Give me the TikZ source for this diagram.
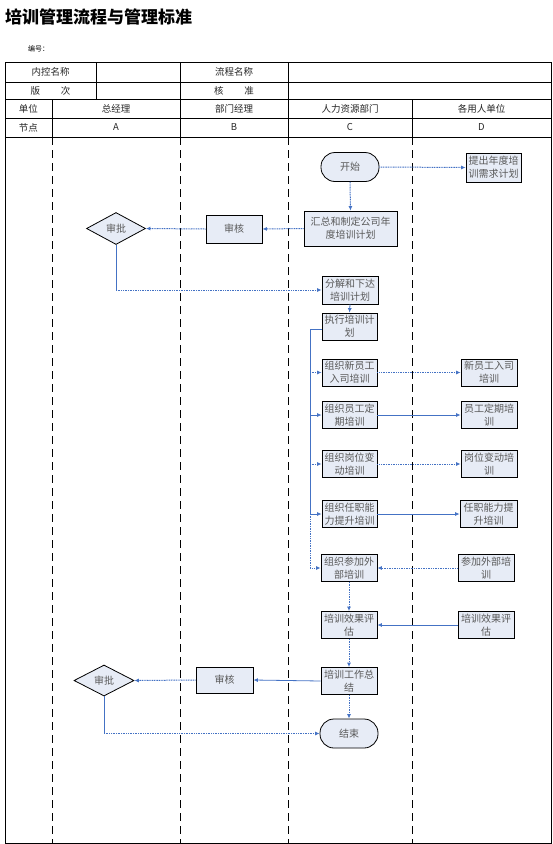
\documentclass[tikz,border=0pt]{standalone}
\usepackage{fontspec}
\setmainfont{Noto Sans CJK SC}
\usetikzlibrary{arrows.meta,shapes.geometric}
\definecolor{arrowblue}{RGB}{68,114,196}
\definecolor{boxfill}{RGB}{231,236,246}
\tikzset{
  lane/.style={draw=black, line width=0.8pt, dash pattern=on 8pt off 5pt},
  grid/.style={draw=black, line width=0.6pt},
  cell/.style={font=\fontsize{9.5}{11}\selectfont, text=black!85},
  box/.style={draw=black, line width=0.8pt, fill=boxfill, align=center, inner sep=0.5pt,
    font=\fontsize{10}{12.7}\selectfont, text=black!65},
  term/.style={box, rounded corners=14pt, minimum width=58pt, minimum height=29pt},
  dia/.style={box, diamond, inner sep=0pt, minimum width=59pt, minimum height=32pt},
  conn/.style={draw=arrowblue, line width=0.8pt, -{Latex[length=4.5pt,width=4pt]}},
  dconn/.style={conn, line width=1pt, dash pattern=on 1pt off 0.7pt},
  plain/.style={draw=arrowblue, line width=0.8pt},
  dplain/.style={plain, line width=1pt, dash pattern=on 1pt off 0.7pt}
}
\begin{document}
\begin{tikzpicture}[x=1pt,y=-1pt]
\useasboundingbox (0,0) rectangle (553,844);
% title
\node[anchor=west, font=\fontsize{17}{20}\selectfont\bfseries, inner sep=0pt] (title) at (5,17) {培训管理流程与管理标准};
\node[anchor=west, font=\fontsize{7}{8}\selectfont, inner sep=0pt] (num) at (28,49) {编号：};
% table frame
\draw[grid] (5,62) rectangle (551,843);
\draw[grid] (5,82) -- (551,82);
\draw[grid] (5,99) -- (551,99);
\draw[grid] (5,118) -- (551,118);
\draw[grid] (5,137) -- (551,137);
\foreach \x in {96,180,288} \draw[grid] (\x,62) -- (\x,99);
\foreach \x in {52,180,288,412} {
  \draw[grid] (\x,99) -- (\x,137);
  \draw[lane] (\x,137) -- (\x,843);
}
% table texts
\node[cell] (t1) at (50.5,72) {内控名称};
\node[cell] (t2) at (234,72) {流程名称};
\node[cell] (t3) at (50.5,90.5) {版\hspace{2.2em}次};
\node[cell] (t4) at (234,90.5) {核\hspace{2.2em}准};
\node[cell] (h0) at (28.5,108.5) {单位};
\node[cell] (h1) at (116,108.5) {总经理};
\node[cell] (h2) at (234,108.5) {部门经理};
\node[cell] (h3) at (350,108.5) {人力资源部门};
\node[cell] (h4) at (481.5,108.5) {各用人单位};
\node[cell] (n0) at (28.5,127.5) {节点};
\node[cell] (n1) at (116,127.5) {A};
\node[cell] (n2) at (234,127.5) {B};
\node[cell] (n3) at (350,127.5) {C};
\node[cell] (n4) at (481.5,127.5) {D};
% nodes
\node[term] (start) at (350,167) {开始};
\node[box, minimum width=55pt, minimum height=29pt] (req) at (493.5,167.5) {提出年度培\\训需求计划};
\node[box, minimum width=93pt, minimum height=35pt] (summ) at (350.5,228.5) {汇总和制定公司年\\度培训计划};
\node[box, minimum width=56pt, minimum height=28pt] (rev1) at (234,229) {审核};
\node[dia] (app1) at (116,228.5) {审批};
\node[box, minimum width=56pt, minimum height=28pt] (dec) at (350,290) {分解和下达\\培训计划};
\node[box, minimum width=55pt, minimum height=27pt] (exec) at (349.5,326.5) {执行培训计\\划};
\node[box, minimum width=55pt, minimum height=27pt] (new) at (349.5,372.5) {组织新员工\\入司培训};
\node[box, minimum width=55pt, minimum height=27pt] (reg) at (349.5,415) {组织员工定\\期培训};
\node[box, minimum width=55pt, minimum height=27pt] (pos) at (349.5,464) {组织岗位变\\动培训};
\node[box, minimum width=55pt, minimum height=27pt] (comp) at (349.5,514) {组织任职能\\力提升培训};
\node[box, minimum width=56pt, minimum height=27pt] (newd) at (489,372.5) {新员工入司\\培训};
\node[box, minimum width=56pt, minimum height=27pt] (regd) at (489,415) {员工定期培\\训};
\node[box, minimum width=56pt, minimum height=27pt] (posd) at (489,464) {岗位变动培\\训};
\node[box, minimum width=57pt, minimum height=27pt] (compd) at (488.5,514) {任职能力提\\升培训};
\node[box, minimum width=56pt, minimum height=27pt] (ext) at (349,568) {组织参加外\\部培训};
\node[box, minimum width=56pt, minimum height=27pt] (extd) at (486,568) {参加外部培\\训};
\node[box, minimum width=56pt, minimum height=27pt] (eval) at (349,625) {培训效果评\\估};
\node[box, minimum width=56pt, minimum height=27pt] (evald) at (486,625) {培训效果评\\估};
\node[box, minimum width=56pt, minimum height=27pt] (sum2) at (349,681) {培训工作总\\结};
\node[term] (end) at (349,733.5) {结束};
\node[box, minimum width=57pt, minimum height=26pt] (rev2) at (224.5,680) {审核};
\node[dia, minimum width=60pt, minimum height=31pt] (app2) at (104,680.5) {审批};
% connectors top
\draw[dconn] (start.east) -- (req.west);
\draw[dconn] (start.south) -- (summ.north);
\draw[dconn] (summ.west) -- (rev1.east);
\draw[dconn] (rev1.west) -- (app1.east);
\coordinate (c1) at (app1.south |- dec.west);
\draw[plain] (app1.south) -- (c1);
\draw[dconn] (c1) -- (dec.west);
\draw[conn] (dec.south) -- (exec.north);
% bus
\coordinate (bus) at (310,329);
\coordinate (busend) at (bus |- ext.west);
\draw[plain] (exec.west |- bus) -- (bus) -- (bus |- comp.west);
\draw[dconn] (bus |- comp.west) -- (busend) -- (ext.west);
\draw[dconn] (bus |- new.west) -- (new.west);
\draw[conn] (bus |- reg.west) -- (reg.west);
\draw[dconn] (bus |- pos.west) -- (pos.west);
\draw[conn] (bus |- comp.west) -- (comp.west);
% C to D
\draw[dconn] (new.east) -- (newd.west);
\draw[conn] (reg.east) -- (regd.west);
\draw[dconn] (pos.east) -- (posd.west);
\draw[conn] (comp.east) -- (compd.west);
\draw[dconn] (extd.west) -- (ext.east);
\draw[conn] (evald.west) -- (eval.east);
% vertical C
\draw[dconn] (ext.south) -- (eval.north);
\draw[dconn] (eval.south) -- (sum2.north);
\draw[dconn] (sum2.south) -- (end.north);
% bottom
\draw[conn] (sum2.west) -- (rev2.east);
\draw[dconn] (rev2.west) -- (app2.east);
\coordinate (c2) at (app2.south |- end.west);
\draw[plain] (app2.south) -- (c2);
\draw[dconn] (c2) -- (end.west);
\end{tikzpicture}
\end{document}
